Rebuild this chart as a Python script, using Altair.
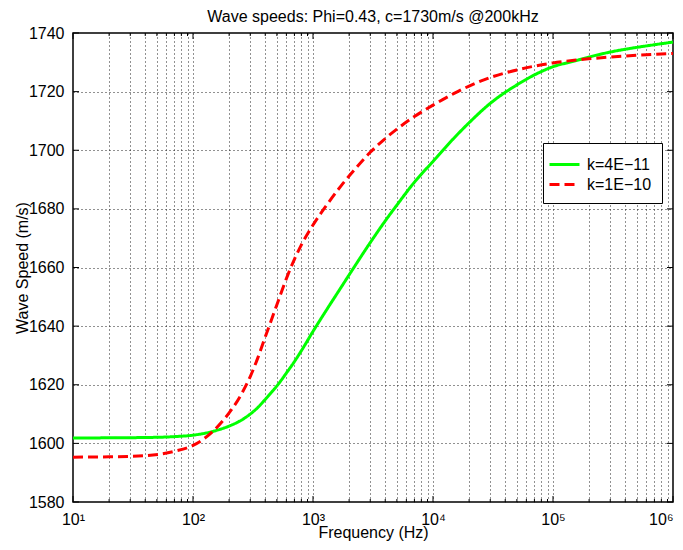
import altair as alt
import pandas as pd

# ---- data ----
freq_hz = [10, 20, 40, 70, 100, 120, 150, 200, 250, 300, 350, 400, 450, 500,
           600, 700, 800, 1000, 1300, 1700, 2200, 3000, 4000, 5000, 7000,
           10000, 15000, 20000, 30000, 50000, 70000, 100000, 150000, 200000,
           300000, 500000, 700000, 1000000]
speed_k4e11 = [1601.8, 1601.9, 1602.0, 1602.3, 1602.8, 1603.3, 1604.2, 1605.9,
               1607.8, 1610.0, 1612.4, 1615.0, 1617.4, 1619.6, 1624.0, 1627.9,
               1631.6, 1638.2, 1645.6, 1653.0, 1660.1, 1668.5, 1675.9, 1681.3,
               1689.1, 1696.2, 1704.2, 1709.4, 1716.0, 1722.3, 1725.7, 1728.5,
               1730.4, 1731.8, 1733.5, 1735.1, 1736.0, 1736.9]
speed_k1e10 = [1595.3, 1595.4, 1595.8, 1597.3, 1599.3, 1601.2, 1604.5, 1610.4,
               1616.4, 1622.8, 1629.6, 1636.3, 1642.1, 1647.3, 1656.2, 1662.8,
               1667.7, 1674.5, 1681.3, 1687.7, 1693.2, 1699.3, 1704.0, 1707.2,
               1711.5, 1715.4, 1719.4, 1721.9, 1724.8, 1727.4, 1728.7, 1729.8,
               1730.7, 1731.2, 1731.8, 1732.4, 1732.7, 1733.0]
series_labels = ["k=4E\u221211", "k=1E\u221210"]
series_colors = ["#00ff00", "#ff0000"]
series_dashes = [[1, 0], [10, 5]]

x_decades = [10, 100, 1000, 10000, 100000, 1000000]
x_minor = [m * 10 ** k for k in range(1, 6) for m in range(2, 10)]
y_ticks = list(range(1580, 1741, 20))

title_text = "Wave speeds: Phi=0.43, c=1730m/s @200kHz"
x_title = "Frequency (Hz)"
y_title = "Wave Speed (m/s)"

# ---- layout / style ----
W, H = 600, 469
FONT = "Liberation Sans"
FS = 16

n = len(freq_hz)
df = pd.DataFrame({
    "freq": freq_hz + freq_hz,
    "speed": speed_k4e11 + speed_k1e10,
    "series": [series_labels[0]] * n + [series_labels[1]] * n,
})
xt_major = pd.DataFrame({"freq": x_decades})
xt_minor = pd.DataFrame({"freq": x_minor})
yt = pd.DataFrame({"speed": y_ticks})

x_scale = alt.Scale(type="log", domain=[10, 1000000], nice=False)
y_scale = alt.Scale(domain=[1580, 1740], nice=False, zero=False)

label_expr = ("indexof([10,100,1000,10000,100000,1000000], datum.value) >= 0 ? "
              "'10' + ['\u00b9','\u00b2','\u00b3','\u2074','\u2075','\u2076']"
              "[round(log(datum.value)/LN10) - 1] : ''")

x_axis = alt.Axis(
    values=x_decades + x_minor, labelExpr=label_expr, title=x_title,
    grid=True, gridDash=[1, 3], gridColor="#222",
    gridOpacity={"condition": {"test": "datum.value <= 10 || datum.value >= 1000000",
                               "value": 0}, "value": 1},
    labelAlign={"condition": {"test": "datum.value >= 1000000", "value": "right"},
                "value": "center"},
    ticks=False, tickSize=0, domain=False,
    labelPadding=9, labelFlush=False, labelOverlap=False,
    titleY=35, titleBaseline="alphabetic",
)
y_axis = alt.Axis(
    values=y_ticks, title=y_title, format="d",
    grid=True, gridDash=[1, 3], gridColor="#222",
    gridOpacity={"condition": {"test": "datum.value <= 1580 || datum.value >= 1740",
                               "value": 0}, "value": 1},
    ticks=False, tickSize=0, domain=False,
    labelPadding=9, labelFlush=False, labelOverlap=False,
    titleX=-51, titleBaseline="middle",
)

X = alt.X("freq:Q", scale=x_scale, axis=x_axis)
Y = alt.Y("speed:Q", scale=y_scale, axis=y_axis)

legend = alt.Legend(
    title=None, orient="none", legendX=470, legendY=110,
    symbolType="M-1.5,0H1.5", symbolSize=400, symbolStrokeWidth=3,
    labelOffset=11, padding=10, rowPadding=0,
    strokeColor="black", fillColor="white", cornerRadius=0,
)

lines = alt.Chart(df).mark_line(strokeWidth=3, interpolate="monotone").encode(
    x=X, y=Y,
    color=alt.Color("series:N", scale=alt.Scale(domain=series_labels, range=series_colors),
                    legend=legend),
    strokeDash=alt.StrokeDash("series:N",
                              scale=alt.Scale(domain=series_labels, range=series_dashes),
                              legend=legend),
)

def xtick(data, y0, y1):
    return alt.Chart(data).mark_rule(color="black", strokeWidth=1).encode(
        x=X, y=alt.value(y0), y2=alt.value(y1))

def ytick(x0, x1):
    return alt.Chart(yt).mark_rule(color="black", strokeWidth=1).encode(
        y=Y, x=alt.value(x0), x2=alt.value(x1))

ticks = [
    xtick(xt_major, H, H - 6), xtick(xt_minor, H, H - 3),
    xtick(xt_major, 0, 6), xtick(xt_minor, 0, 3),
    ytick(0, 6), ytick(W, W - 6),
]

chart = alt.layer(lines, *ticks).properties(
    width=W, height=H,
    title=alt.TitleParams(text=title_text, fontSize=FS, font=FONT, fontWeight="normal",
                          color="black", anchor="middle", offset=0),
    padding={"left": 65, "top": 25, "right": 2, "bottom": 40},
    autosize=alt.AutoSizeParams(type="none"),
).configure_view(
    stroke="black", strokeWidth=1.5
).configure_axis(
    labelFont=FONT, labelFontSize=FS, labelColor="black",
    titleFont=FONT, titleFontSize=FS, titleFontWeight="normal", titleColor="black",
).configure_legend(
    labelFont=FONT, labelFontSize=FS, labelColor="black",
)

chart.save("out.html", embed_options={"renderer": "svg", "actions": False})
